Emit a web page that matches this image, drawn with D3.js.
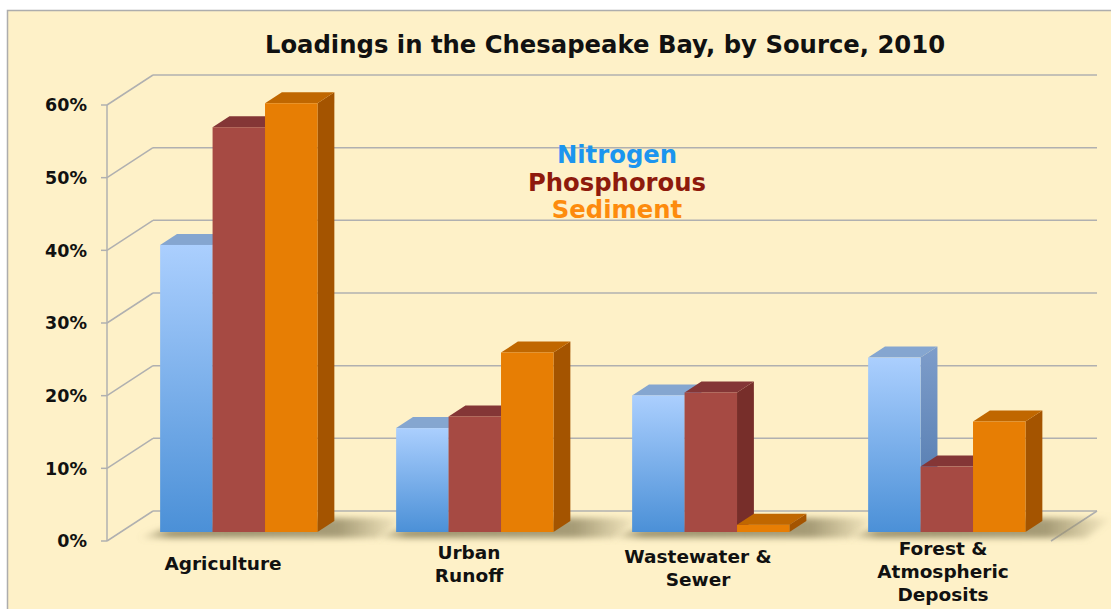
<!DOCTYPE html>
<html>
<head>
<meta charset="utf-8">
<script src="https://cdn.jsdelivr.net/npm/d3@7"></script>
<style>
  html, body { margin: 0; padding: 0; background: #ffffff; }
  svg { display: block; }
  text { font-family: "DejaVu Sans", Verdana, sans-serif; font-weight: bold; }
</style>
</head>
<body>
<svg id="chart" width="1111" height="609"></svg>
<script>
// ---------------- data ----------------
const title = "Loadings in the Chesapeake Bay, by Source, 2010";
const categories = ["Agriculture", "Urban Runoff", "Wastewater & Sewer", "Forest & Atmospheric Deposits"];
const categoryLines = [["Agriculture"], ["Urban", "Runoff"], ["Wastewater &", "Sewer"], ["Forest &", "Atmospheric", "Deposits"]];
const seriesNames = ["Nitrogen", "Phosphorous", "Sediment"];
const nitrogen = [39.5, 14.3, 18.8, 24.0];
const phosphorous = [55.7, 15.9, 19.2, 9.0];
const sediment = [59.0, 24.7, 1.0, 15.2];
const yTicks = [0, 10, 20, 30, 40, 50, 60];
const yTickLabels = ["0%", "10%", "20%", "30%", "40%", "50%", "60%"];

// ---------------- layout / style ----------------
const seriesValues = [nitrogen, phosphorous, sediment];
const W = 1111, H = 609;
const frontLeft = 107, frontRight = 1051;
const frontBottom = 541, frontTop = 105;
const DX = 46, DY = -30;            // full floor depth offset
const barD0 = 0.3, barD1 = 0.667;   // bar depth placement (fraction of floor depth)
const labelDx = [-2, 8, 1, 10];
const labelY0 = [563, 552, 556, 548];
const labelLH = 23;

const svg = d3.select("#chart");
const defs = svg.append("defs");

// gradients
function vGrad(id, top, bottom) {
  const g = defs.append("linearGradient").attr("id", id).attr("x1", 0).attr("y1", 0).attr("x2", 0).attr("y2", 1);
  g.append("stop").attr("offset", "0%").attr("stop-color", top);
  g.append("stop").attr("offset", "100%").attr("stop-color", bottom);
}
vGrad("nFront", "#abcffe", "#4b90d7");
vGrad("nSide", "#7e9dca", "#4a74aa");
const styles = [
  { front: "url(#nFront)", top: "#85a6d0", side: "url(#nSide)" },
  { front: "#a64a43", top: "#843636", side: "#772e2a" },
  { front: "#e77e04", top: "#c06700", side: "#a45400" }
];
const legendColors = ["#1b95ef", "#8e1a0c", "#fd8b0d"];

const blur = defs.append("filter").attr("id", "blur").attr("x", "-20%").attr("y", "-50%").attr("width", "140%").attr("height", "200%");
blur.append("feGaussianBlur").attr("stdDeviation", 3);
const shGrad = defs.append("linearGradient").attr("id", "shGrad").attr("x1", 0).attr("y1", 0).attr("x2", 1).attr("y2", 0);
shGrad.append("stop").attr("offset", "0%").attr("stop-color", "#978d68").attr("stop-opacity", 0.0);
shGrad.append("stop").attr("offset", "12%").attr("stop-color", "#978d68").attr("stop-opacity", 0.95);
shGrad.append("stop").attr("offset", "75%").attr("stop-color", "#978d68").attr("stop-opacity", 0.85);
shGrad.append("stop").attr("offset", "100%").attr("stop-color", "#978d68").attr("stop-opacity", 0.0);

// background panel
svg.append("rect").attr("x", 7.5).attr("y", 10.5).attr("width", W + 20).attr("height", H + 20)
  .attr("fill", "#fef1c8").attr("stroke", "#adadad").attr("stroke-width", 1.5);

// scales
const y = d3.scaleLinear().domain([0, 60]).range([frontBottom, frontTop]);
const x0 = d3.scaleBand().domain(categories).range([frontLeft, frontRight]).paddingInner(0).paddingOuter(0);
const x1 = d3.scaleBand().domain(seriesNames).range([0, x0.bandwidth()]).paddingInner(0).paddingOuter(0.75);

// grid: diagonals + back wall lines
const grid = svg.append("g").attr("stroke", "#b0b0b0").attr("stroke-width", 1.5).attr("fill", "none");
yTicks.forEach(v => {
  const yy = y(v);
  grid.append("line").attr("x1", frontLeft).attr("y1", yy).attr("x2", frontLeft + DX).attr("y2", yy + DY);
  grid.append("line").attr("x1", frontLeft + DX).attr("y1", yy + DY).attr("x2", frontRight + DX).attr("y2", yy + DY);
  grid.append("line").attr("x1", frontLeft - 6).attr("y1", yy).attr("x2", frontLeft).attr("y2", yy);
});
grid.append("line").attr("x1", frontLeft).attr("y1", y(0)).attr("x2", frontLeft).attr("y2", y(60));
grid.append("line").attr("x1", frontRight).attr("y1", y(0)).attr("x2", frontRight + DX).attr("y2", y(0) + DY);

// y labels
svg.append("g").selectAll("text").data(yTicks).join("text")
  .attr("x", 87).attr("y", d => y(d)).attr("dy", "0.36em")
  .attr("text-anchor", "end").attr("font-size", 17.5).attr("fill", "#111")
  .text((d, i) => yTickLabels[i]);

// bars
const ox = barD0 * DX, oy = barD0 * DY;
const dx = (barD1 - barD0) * DX, dy = (barD1 - barD0) * DY;
const bars = svg.append("g");
categories.forEach((cat, ci) => {
  const gx = x0(cat);
  const left = gx + x1(seriesNames[0]) + ox;
  const right = gx + x1(seriesNames[2]) + x1.bandwidth() + ox;
  const base = y(0) + oy;
  // floor shadow
  bars.append("path")
    .attr("d", `M${left - 22},${base + 6} L${right + 60},${base + 6} L${right + 88},${base - 14} L${right + 10},${base - 14} L${left},${base - 2} Z`)
    .attr("fill", "url(#shGrad)").attr("filter", "url(#blur)");
  seriesNames.forEach((s, si) => {
    const v = seriesValues[si][ci];
    const bx = gx + x1(s) + ox;
    const bw = x1.bandwidth();
    const top = y(v) + oy;
    const st = styles[si];
    // side
    bars.append("path")
      .attr("d", `M${bx + bw},${base} L${bx + bw + dx},${base + dy} L${bx + bw + dx},${top + dy} L${bx + bw},${top} Z`)
      .attr("fill", st.side);
    // top
    bars.append("path")
      .attr("d", `M${bx},${top} L${bx + dx},${top + dy} L${bx + bw + dx},${top + dy} L${bx + bw},${top} Z`)
      .attr("fill", st.top);
    // front
    bars.append("rect").attr("x", bx).attr("y", top).attr("width", bw).attr("height", base - top)
      .attr("fill", st.front);
  });
});

// x labels
const xl = svg.append("g");
categories.forEach((cat, ci) => {
  const cx = x0(cat) + x0.bandwidth() / 2 + labelDx[ci];
  categoryLines[ci].forEach((line, li) => {
    xl.append("text").attr("x", cx).attr("y", labelY0[ci] + li * labelLH).attr("dy", "0.36em")
      .attr("text-anchor", "middle").attr("font-size", 18.5).attr("fill", "#111").text(line);
  });
});

// title
svg.append("text").attr("x", 605).attr("y", 44).attr("dy", "0.36em").attr("text-anchor", "middle")
  .attr("font-size", 24.3).attr("fill", "#111").text(title);

// legend
const legY = [154, 182, 209];
svg.append("g").selectAll("text").data(seriesNames).join("text")
  .attr("x", 617).attr("y", (d, i) => legY[i]).attr("dy", "0.36em")
  .attr("text-anchor", "middle").attr("font-size", 24.3)
  .attr("fill", (d, i) => legendColors[i]).text(d => d);
</script>
</body>
</html>
